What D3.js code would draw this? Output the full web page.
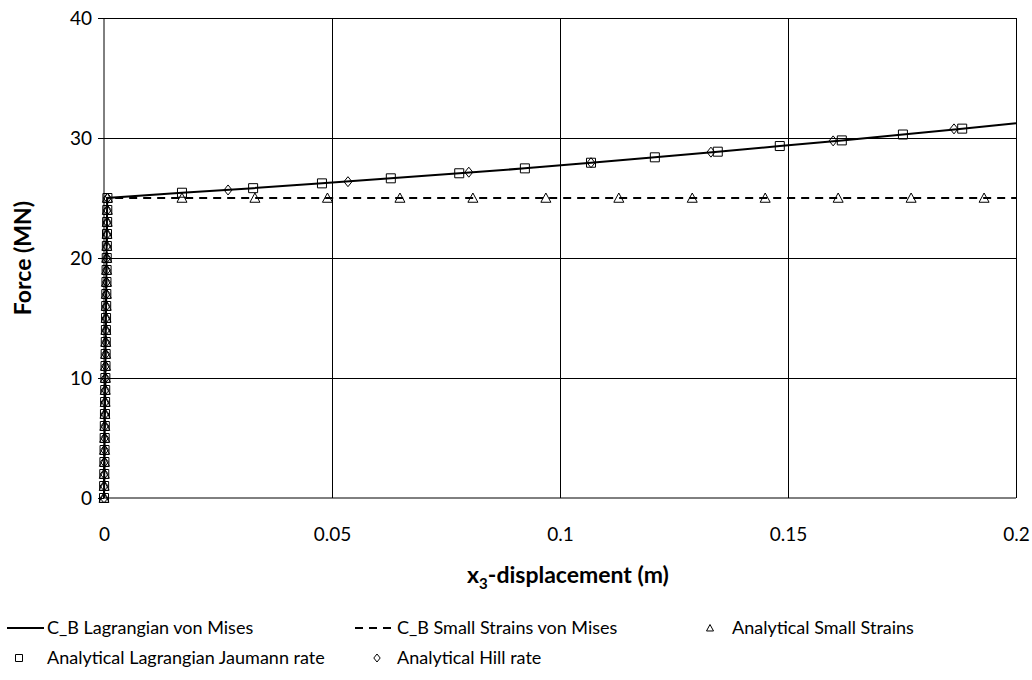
<!DOCTYPE html>
<html><head><meta charset="utf-8">
<script src="https://cdn.jsdelivr.net/npm/d3@7"></script>
<style>
body{margin:0;background:#fff}
text{font-family:Lato,"Open Sans",sans-serif;fill:#000}
</style>
</head><body>
<svg id="chart" width="1032" height="680"></svg>
<script>
// ---------- data ----------
const xTicks = [0, 0.05, 0.1, 0.15, 0.2];
const xTickLabels = ["0", "0.05", "0.1", "0.15", "0.2"];
const yTicks = [0, 10, 20, 30, 40];
const yTickLabels = ["0", "10", "20", "30", "40"];

// C_B Lagrangian von Mises (solid line)
const lagrangianDisp  = [0, 0.0007, 0.0171, 0.0327, 0.0478, 0.0629, 0.0779, 0.0923, 0.1068, 0.1208, 0.1346, 0.1482, 0.1618, 0.1752, 0.1882, 0.2];
const lagrangianForce = [0, 25.0, 25.44, 25.82, 26.22, 26.64, 27.06, 27.47, 27.94, 28.39, 28.86, 29.33, 29.80, 30.29, 30.78, 31.22];

// C_B Small Strains von Mises (dashed line)
const smallDisp  = [0, 0.0007, 0.2];
const smallForce = [0, 25.0, 25.0];

// elastic branch points shared by the analytical series
const elasticDisp  = [0, 0.00003, 0.00006, 0.00009, 0.00012, 0.00015, 0.00018, 0.00021, 0.00024, 0.00027, 0.0003, 0.00033, 0.00036, 0.00039, 0.00042, 0.00045, 0.00048, 0.00051, 0.00054, 0.00057, 0.0006, 0.00063, 0.00066, 0.00069, 0.00072, 0.00075];
const elasticForce = [0, 1, 2, 3, 4, 5, 6, 7, 8, 9, 10, 11, 12, 13, 14, 15, 16, 17, 18, 19, 20, 21, 22, 23, 24, 25];

// Analytical Small Strains (triangles) - plastic part
const triDisp  = [0.0171, 0.0331, 0.049, 0.0649, 0.0809, 0.0969, 0.1129, 0.129, 0.145, 0.161, 0.177, 0.193];
const triForce = [25, 25, 25, 25, 25, 25, 25, 25, 25, 25, 25, 25];

// Analytical Lagrangian Jaumann rate (squares) - plastic part
const sqDisp  = [0.0171, 0.0327, 0.0478, 0.0629, 0.0779, 0.0923, 0.1068, 0.1208, 0.1346, 0.1482, 0.1618, 0.1752, 0.1882];
const sqForce = [25.44, 25.82, 26.22, 26.64, 27.06, 27.47, 27.94, 28.39, 28.86, 29.33, 29.80, 30.29, 30.78];

// Analytical Hill rate (diamonds) - plastic part
const diaDisp  = [0.0272, 0.0535, 0.0800, 0.1068, 0.1331, 0.1599, 0.1864];
const diaForce = [25.67, 26.36, 27.15, 27.94, 28.82, 29.76, 30.76];

const legendLabels = ["C_B Lagrangian von Mises", "C_B Small Strains von Mises", "Analytical Small Strains", "Analytical Lagrangian Jaumann rate", "Analytical Hill rate"];

// ---------- layout ----------
const svg = d3.select("#chart");
const L = 104, R = 1016, T = 18, B = 498;
const x = d3.scaleLinear().domain([0, 0.2]).range([L, R]);
const y = d3.scaleLinear().domain([0, 40]).range([B, T]);

// gridlines
const g = svg.append("g");
g.selectAll(".vg").data(xTicks.slice(1)).join("line")
  .attr("x1", d => x(d)).attr("x2", d => x(d)).attr("y1", T).attr("y2", B)
  .attr("stroke", "#000").attr("stroke-width", 1).attr("shape-rendering", "crispEdges");
g.selectAll(".hg").data(yTicks.slice(1)).join("line")
  .attr("x1", L).attr("x2", R).attr("y1", d => y(d)).attr("y2", d => y(d))
  .attr("stroke", "#000").attr("stroke-width", 1).attr("shape-rendering", "crispEdges");

// axes
const yAxis = d3.axisLeft(y).tickValues(yTicks).tickFormat((d, i) => yTickLabels[i]).tickSize(6).tickPadding(6);
const ya = svg.append("g").attr("transform", `translate(${L},0)`).call(yAxis);
ya.select(".domain").attr("stroke", "#000").attr("d", `M0,${T}V${B}`);
ya.selectAll("text").attr("font-size", 19).attr("font-family", "Lato");
ya.selectAll("line").attr("shape-rendering", "crispEdges");

const xAxis = d3.axisBottom(x).tickValues(xTicks).tickFormat((d, i) => xTickLabels[i]).tickSize(0).tickPadding(30);
const xa = svg.append("g").attr("transform", `translate(0,${B})`).call(xAxis);
xa.select(".domain").attr("stroke", "#000").attr("d", `M${L},0H${R}`);
xa.selectAll("text").attr("font-size", 19).attr("font-family", "Lato");

// axis titles
svg.append("text").attr("transform", `translate(31,${(T + B) / 2}) rotate(-90)`)
  .attr("text-anchor", "middle").attr("font-size", 23).attr("font-weight", "bold").text("Force (MN)");
const xt = svg.append("text").attr("x", (L + R) / 2 + 8).attr("y", 583)
  .attr("text-anchor", "middle").attr("font-size", 23).attr("font-weight", "bold");
xt.append("tspan").text("x");
xt.append("tspan").attr("font-size", 15).attr("dy", 6).text("3");
xt.append("tspan").attr("dy", -6).text("-displacement (m)");

// lines
const line = d3.line().x(d => x(d[0])).y(d => y(d[1]));
const plot = svg.append("g");
plot.append("path").datum(lagrangianDisp.map((d, i) => [d, lagrangianForce[i]]))
  .attr("d", line).attr("fill", "none").attr("stroke", "#000").attr("stroke-width", 2);
plot.append("path").datum(smallDisp.map((d, i) => [d, smallForce[i]]))
  .attr("d", line).attr("fill", "none").attr("stroke", "#000").attr("stroke-width", 2).attr("stroke-dasharray", "8,6");

// marker shapes
function sqPath(s) { return `M${-s},${-s}H${s}V${s}H${-s}Z`; }
function triPath(s) { return `M0,${-s}L${s},${s * 0.85}H${-s}Z`; }
function diaPath(s) { return `M0,${-s}L${s * 0.8},0L0,${s}L${-s * 0.8},0Z`; }

function drawMarkers(dx, dy, pathFn, size) {
  plot.append("g").selectAll("path").data(dx.map((d, i) => [d, dy[i]])).join("path")
    .attr("transform", d => `translate(${x(d[0])},${y(d[1])})`)
    .attr("d", pathFn(size)).attr("fill", "none").attr("stroke", "#000").attr("stroke-width", 1);
}
const triAll = elasticDisp.concat(triDisp), triAllF = elasticForce.concat(triForce);
const sqAll = elasticDisp.concat(sqDisp), sqAllF = elasticForce.concat(sqForce);
const diaAll = elasticDisp.concat(diaDisp), diaAllF = elasticForce.concat(diaForce);
drawMarkers(triAll, triAllF, triPath, 5);
drawMarkers(sqAll, sqAllF, sqPath, 4.5);
drawMarkers(diaAll, diaAllF, diaPath, 5);

// legend
const lg = svg.append("g");
function legText(px, py, t) { lg.append("text").attr("x", px).attr("y", py + 6).attr("font-size", 18).text(t); }
lg.append("line").attr("x1", 7).attr("x2", 44).attr("y1", 628).attr("y2", 628).attr("stroke", "#000").attr("stroke-width", 2);
legText(47, 628, legendLabels[0]);
lg.append("line").attr("x1", 355).attr("x2", 395).attr("y1", 628).attr("y2", 628).attr("stroke", "#000").attr("stroke-width", 2).attr("stroke-dasharray", "8,6");
legText(397, 628, legendLabels[1]);
lg.append("path").attr("transform", "translate(710,628)").attr("d", triPath(3.5)).attr("fill", "none").attr("stroke", "#000");
legText(732, 628, legendLabels[2]);
lg.append("path").attr("transform", "translate(19,658)").attr("d", sqPath(3.5)).attr("fill", "none").attr("stroke", "#000");
legText(47, 658, legendLabels[3]);
lg.append("path").attr("transform", "translate(377,658)").attr("d", diaPath(4)).attr("fill", "none").attr("stroke", "#000");
legText(397, 658, legendLabels[4]);
</script>
</body></html>
